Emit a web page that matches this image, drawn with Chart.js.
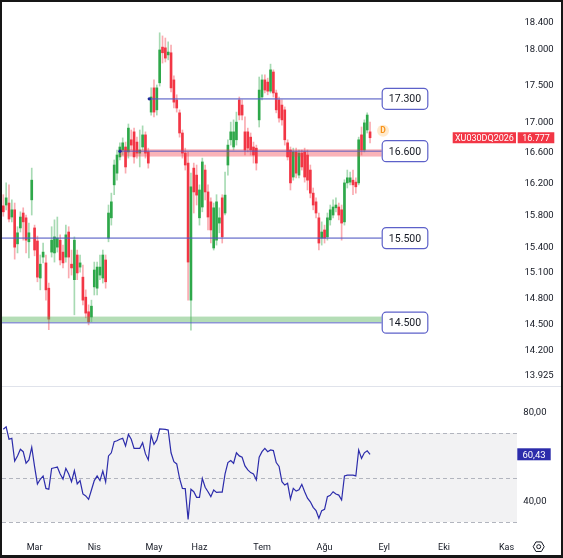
<!DOCTYPE html>
<html>
<head>
<meta charset="utf-8">
<title>XU030DQ2026</title>
<script src="https://cdn.jsdelivr.net/npm/chart.js@4.4.1/dist/chart.umd.min.js"></script>
<style>
  html, body { margin: 0; padding: 0; background: #fff; }
  #frame { width: 563px; height: 558px; box-sizing: border-box; border: 2px solid #161616; border-bottom-width: 3px; }
  canvas { display: block; }
</style>
</head>
<body>
<div id="frame"><canvas id="chart" width="559" height="553"></canvas></div>
<script>
// Daily candles, one entry per trading day
const opens = [15900,15910,15935,15760,15850,15430,15625,15810,15750,15455,15975,15625,15465,15020,15270,15200,14900,15330,15320,15390,
  15475,15330,15270,15575,15185,15000,15295,15150,15030,14795,14625,14565,14915,14900,15055,15020,15235,15500,15750,16165,
  16315,16525,16615,16655,16590,16750,16855,16720,16575,16655,16815,16590,17120,17450,17150,17520,18020,18010,17910,17940,
  17560,17285,17110,16840,16575,16445,14760,16380,16290,15750,15885,16355,16075,15950,15380,15475,15685,16000,15810,16420,
  16750,16655,16750,17285,17215,16855,16855,16785,16655,16640,17015,17325,17560,17530,17405,17670,17380,17285,17215,17150,
  16710,16615,16265,16590,16290,16575,16590,16550,16355,16060,15950,15750,15500,15600,15515,15725,15785,15875,15885,15850,
  15700,16190,16200,16225,16200,16190,16815,16615,16880,16855];
const highs = [16040,16190,16165,15975,15935,15640,15825,15875,15785,15685,16380,15660,15525,15295,15440,15295,14960,15640,15725,15760,
  15540,15415,15660,15640,15355,15515,15355,15295,15175,14880,14705,14760,15210,15210,15295,15355,15295,15910,16060,16485,
  16615,16710,16775,16720,16960,16880,16905,16785,16880,16935,16855,16640,17450,17560,17490,18225,18180,18150,18095,18050,
  17615,17355,17150,16880,16640,16590,16315,16445,16420,16165,16510,16420,16165,16000,15935,16040,15875,16040,16330,16750,
  16985,17015,17120,17325,17285,17055,16905,16840,16720,16680,17600,17630,17630,17585,17780,17700,17420,17325,17285,17190,
  16750,16655,16640,16640,16615,16615,16640,16615,16420,16125,16000,15810,15700,15660,15810,15910,15975,16000,15935,15910,
  16230,16355,16330,16355,16255,16785,16920,17015,17110,16985];
const lows = [15770,15850,15700,15700,15245,15320,15575,15475,15320,15260,15785,15285,14975,14880,15200,14760,14420,15270,15210,15330,
  15175,15140,15210,15020,15055,14590,15000,15090,14705,14555,14475,14510,14820,14820,15000,14960,14900,15455,15660,16040,
  16225,16485,16550,16315,16510,16615,16445,16510,16395,16615,16510,16380,17080,17055,17080,17475,17795,17810,17840,17395,
  17175,17120,16785,16510,16355,14760,14415,15810,15910,15660,15825,15975,15600,15440,15355,15415,15565,15440,15785,16290,
  16680,16615,16680,17015,17015,16550,16590,16550,16445,16355,16920,17285,17380,17355,17380,17325,17110,16985,16945,16680,
  16485,16100,16225,16255,16255,16355,16200,16100,16000,15850,15750,15355,15415,15440,15475,15660,15750,15825,15725,15475,
  15660,16125,16165,16040,16060,16165,16550,16590,16840,16710];
const closes = [15825,16000,15735,15850,15390,15565,15760,15700,15475,15565,16225,15355,15030,15185,15330,14880,14540,15475,15515,15500,
  15235,15200,15540,15270,15140,15475,15080,15200,14760,14610,14510,14690,15115,15150,15150,15295,14975,15810,15950,16420,
  16550,16655,16710,16395,16905,16680,16525,16575,16615,16815,16575,16445,17325,17120,17450,17980,17940,17865,17950,17450,
  17255,17175,16840,16575,16420,15210,16140,16075,16035,16100,16460,16075,15760,15600,15875,15950,15750,15515,16035,16680,
  16855,16855,16985,17080,17080,16615,16640,16615,16550,16445,17420,17560,17420,17405,17700,17380,17150,17040,17015,16750,
  16525,16190,16590,16315,16575,16395,16265,16225,16060,15910,15810,15440,15575,15500,15750,15850,15885,15910,15785,15685,
  16190,16255,16255,16165,16140,16750,16615,16975,17080,16777];

// RSI (14) for the same days
const rsiValues = [71.7,72.8,67.2,67.6,57.4,59.7,62.7,61.6,56.4,57.9,63.6,54.9,47.1,49.2,50.7,45.1,44.7,54.1,54.4,54.7,
  51.6,49.3,54.1,51.6,48.1,53.1,47.1,48.6,42.6,41.7,40.2,44.4,48.6,50.7,48.6,52.9,48.0,59.7,61.1,66.1,
  66.5,67.2,67.6,64.2,69.4,67.2,63.1,63.1,63.1,65.6,60.6,57.9,69.1,64.9,66.9,71.8,71.7,71.6,71.3,61.1,
  57.1,56.1,49.6,45.1,45.0,31.2,44.7,43.6,41.1,41.1,49.6,45.6,43.6,41.4,44.4,43.3,43.4,43.4,51.6,56.7,
  57.6,56.4,61.1,59.7,59.1,55.2,53.4,52.2,51.6,48.9,59.1,61.6,63.1,61.6,62.4,62.1,56.7,55.0,48.1,46.6,
  47.4,40.3,45.1,43.9,44.5,46.9,43.6,40.7,39.1,36.6,35.1,31.7,35.1,35.7,41.4,42.0,43.6,42.6,42.1,39.9,
  50.7,51.1,51.1,51.1,50.7,62.4,58.6,61.1,62.0,60.43];

// Axis ticks
const priceTicks = [18400, 18000, 17500, 17000, 16600, 16200, 15800, 15400, 15100, 14800, 14500, 14200, 13925];
const rsiTicks = [80, 40];
const rsiGuides = [70, 50, 30];
const rsiBand = [30, 70];
const monthLabels = ['Mar', 'Nis', 'May', 'Haz', 'Tem', 'Ağu', 'Eyl', 'Eki', 'Kas'];
const monthIndex = [11, 32, 53, 69, 91, 113, 134, 155, 177];

// Drawn support / resistance levels (start bar, null = from the left edge)
const levelPrices = [17300, 16600, 15500, 14500];
const levelFrom = [51.35, 41.05, null, null];
const zoneLow = [16530, 14505];
const zoneHigh = [16625, 14570];
const zoneFrom = [41.05, null];

const symbol = 'XU030DQ2026';

// Select DOM elements
const chartEl = document.querySelector('#chart');

const font = 'Roboto';
const textColor = '#131722';
const upColor = '#2ea84a';
const downColor = '#f23645';
const upWick = 'rgba(46,168,74,0.42)';
const downWick = 'rgba(242,54,69,0.42)';
const rsiColor = '#2c2cab';
const levelLabelAt = 133.1;   // bar index where the level labels sit
const zoneColors = ['rgba(242,54,69,0.38)', 'rgba(76,175,80,0.42)'];

// Turkish number formats
function fmtPrice(v) {
    return Math.round(v).toString().replace(/\B(?=(\d{3})+(?!\d))/g, '.');
}
function fmtRsi(v) {
    return v.toFixed(2).replace('.', ',');
}

function roundBox(ctx, x, y, w, h, r) {
    ctx.beginPath();
    ctx.moveTo(x + r, y);
    ctx.arcTo(x + w, y, x + w, y + h, r);
    ctx.arcTo(x + w, y + h, x, y + h, r);
    ctx.arcTo(x, y + h, x, y, r);
    ctx.arcTo(x, y, x + w, y, r);
    ctx.closePath();
}

// keep tick labels from pushing the plot area inwards
function noLabelPadding(s) {
    s.paddingTop = 0;
    s.paddingBottom = 0;
    s.paddingLeft = 0;
    s.paddingRight = 0;
}

const isUp = closes.map((c, i) => c >= opens[i]);
const wickData = closes.map((c, i) => ({
    x: i,
    y: [Math.min(lows[i], opens[i], c), Math.max(highs[i], opens[i], c)]
}));
const bodyData = closes.map((c, i) => ({ x: i, y: [opens[i], c] }));
const rsiData = rsiValues.map((v, i) => ({ x: i, y: v }));

// Pane backgrounds, drawings and price labels
const panePlugin = {
    id: 'panes',
    beforeDatasetsDraw(chart) {
        const { ctx, chartArea, scales } = chart;
        const rs = scales.rsi;
        ctx.save();
        const top = rs.getPixelForValue(rsiBand[1]);
        const bot = rs.getPixelForValue(rsiBand[0]);
        ctx.fillStyle = 'rgba(19,23,34,0.055)';
        ctx.fillRect(chartArea.left, top, chartArea.right - chartArea.left, bot - top);
        ctx.strokeStyle = '#b2b5be';
        ctx.lineWidth = 1;
        ctx.setLineDash([4, 3]);
        rsiGuides.forEach(v => {
            const y = Math.round(rs.getPixelForValue(v)) + 0.5;
            ctx.beginPath();
            ctx.moveTo(chartArea.left, y);
            ctx.lineTo(chartArea.right, y);
            ctx.stroke();
        });
        ctx.restore();
    },
    afterDatasetsDraw(chart) {
        const { ctx, chartArea, scales } = chart;
        const xs = scales.x, ys = scales.y, rs = scales.rsi;
        const labelX = xs.getPixelForValue(levelLabelAt);
        ctx.save();

        // zones
        zoneLow.forEach((lo, k) => {
            const x0 = zoneFrom[k] == null ? chartArea.left : xs.getPixelForValue(zoneFrom[k]);
            const y0 = ys.getPixelForValue(zoneHigh[k]);
            const y1 = ys.getPixelForValue(lo);
            ctx.fillStyle = zoneColors[k];
            ctx.fillRect(x0, y0, labelX - x0, y1 - y0);
        });

        // level lines with their boxes
        levelPrices.forEach((p, k) => {
            const y = ys.getPixelForValue(p);
            const x0 = levelFrom[k] == null ? chartArea.left : xs.getPixelForValue(levelFrom[k]);
            ctx.strokeStyle = 'rgba(80,88,196,0.62)';
            ctx.lineWidth = 1.6;
            ctx.beginPath();
            ctx.moveTo(x0, y);
            ctx.lineTo(labelX, y);
            ctx.stroke();
            if (levelFrom[k] != null) {
                ctx.fillStyle = '#1f2a9c';
                ctx.beginPath();
                ctx.arc(x0, y, 1.7, 0, Math.PI * 2);
                ctx.fill();
            }
            roundBox(ctx, labelX + 0.5, y - 10.5, 45.6, 21, 4);
            ctx.fillStyle = '#fff';
            ctx.fill();
            ctx.strokeStyle = '#5d61c9';
            ctx.lineWidth = 1.2;
            ctx.stroke();
            ctx.fillStyle = textColor;
            ctx.font = '10.5px ' + font;
            ctx.textAlign = 'center';
            ctx.textBaseline = 'middle';
            ctx.fillText(fmtPrice(p), labelX + 23.3, y + 1);
        });

        // last price and symbol
        const last = closes.length - 1;
        const py = ys.getPixelForValue(closes[last]);
        ctx.fillStyle = downColor;
        ctx.fillRect(chartArea.right - 64.3, py - 5.5, 63.3, 11);
        ctx.fillRect(chartArea.right + 0.7, py - 5.5, 36.6, 11);
        ctx.fillStyle = '#fff';
        ctx.font = '9px ' + font;
        ctx.textAlign = 'center';
        ctx.textBaseline = 'middle';
        ctx.fillText(symbol, chartArea.right - 32.6, py + 1);
        ctx.fillText(fmtPrice(closes[last]), chartArea.right + 19, py + 1);

        // "D" marker next to the last bar
        const dx = xs.getPixelForValue(last) + 13;
        const dy = py - 7;
        ctx.fillStyle = 'rgba(255,152,0,0.2)';
        ctx.beginPath();
        ctx.arc(dx, dy, 6, 0, Math.PI * 2);
        ctx.fill();
        ctx.fillStyle = '#f7931a';
        ctx.font = 'bold 8.5px ' + font;
        ctx.fillText('D', dx, dy + 0.5);

        // RSI value
        const ry = rs.getPixelForValue(rsiValues[rsiValues.length - 1]);
        ctx.fillStyle = rsiColor;
        ctx.fillRect(chartArea.right + 0.3, ry - 6, 33.4, 12);
        ctx.fillStyle = '#fff';
        ctx.font = '9.5px ' + font;
        ctx.fillText(fmtRsi(rsiValues[rsiValues.length - 1]), chartArea.right + 17, ry + 1);

        // pane separator
        ctx.fillStyle = '#e0e3eb';
        ctx.fillRect(0, Math.round(rs.top), chart.width, 1);

        // settings icon
        const gx = chart.width - 22.3, gy = xs.top + 13.7;
        ctx.strokeStyle = textColor;
        ctx.lineWidth = 1;
        ctx.beginPath();
        for (let a = 0; a < 6; a++) {
            const ang = Math.PI / 3 * a;
            const px = gx + 5.5 * Math.cos(ang), pyy = gy + 5.5 * Math.sin(ang);
            if (a === 0) ctx.moveTo(px, pyy); else ctx.lineTo(px, pyy);
        }
        ctx.closePath();
        ctx.stroke();
        ctx.beginPath();
        ctx.arc(gx, gy, 2, 0, Math.PI * 2);
        ctx.stroke();
        ctx.restore();
    }
};

new Chart(chartEl, {
    type: 'bar',
    data: {
        datasets: [
            {
                type: 'bar',
                data: wickData,
                yAxisID: 'y',
                backgroundColor: isUp.map(u => u ? upWick : downWick),
                barThickness: 1,
                grouped: false,
                order: 2
            },
            {
                type: 'bar',
                data: bodyData,
                yAxisID: 'y',
                backgroundColor: isUp.map(u => u ? upColor : downColor),
                barThickness: 2,
                minBarLength: 1,
                grouped: false,
                order: 1
            },
            {
                type: 'line',
                data: rsiData,
                yAxisID: 'rsi',
                borderColor: rsiColor,
                borderWidth: 1.2,
                pointRadius: 0,
                tension: 0,
                order: 0
            }
        ]
    },
    options: {
        responsive: false,
        animation: false,
        events: [],
        layout: { padding: 0 },
        plugins: {
            legend: { display: false },
            tooltip: { enabled: false }
        },
        scales: {
            x: {
                type: 'linear',
                min: -0.46,
                max: 180.69,
                bounds: 'data',
                offset: false,
                grid: { display: false, drawTicks: false },
                border: { display: false },
                afterBuildTicks: s => { s.ticks = monthIndex.map(v => ({ value: v })); },
                afterFit: s => { s.height = 22; noLabelPadding(s); },
                ticks: {
                    autoSkip: false,
                    maxRotation: 0,
                    padding: 9,
                    color: textColor,
                    font: { family: font, size: 9 },
                    callback: (v, i) => monthLabels[i]
                }
            },
            y: {
                type: 'logarithmic',
                position: 'right',
                stack: 'panes',
                stackWeight: 384,
                min: 13793.6,
                max: 18673,
                bounds: 'data',
                grid: { display: false, drawTicks: false },
                border: { display: false },
                afterBuildTicks: s => { s.ticks = priceTicks.map(v => ({ value: v })); },
                afterFit: s => { s.width = 44; noLabelPadding(s); },
                ticks: {
                    autoSkip: false,
                    crossAlign: 'near',
                    padding: 7.5,
                    labelOffset: 1.5,
                    color: textColor,
                    font: { family: font, size: 9.5 },
                    callback: v => fmtPrice(v)
                }
            },
            rsi: {
                type: 'linear',
                position: 'right',
                stack: 'panes',
                stackWeight: 147,
                min: 25.06,
                max: 91.12,
                bounds: 'data',
                grid: { display: false, drawTicks: false },
                border: { display: false },
                afterBuildTicks: s => { s.ticks = rsiTicks.map(v => ({ value: v })); },
                afterFit: s => { s.width = 44; noLabelPadding(s); },
                ticks: {
                    autoSkip: false,
                    crossAlign: 'near',
                    padding: 6.3,
                    labelOffset: 1.5,
                    color: textColor,
                    font: { family: font, size: 9.5 },
                    callback: v => fmtRsi(v)
                }
            }
        }
    },
    plugins: [panePlugin]
});
</script>
</body>
</html>
